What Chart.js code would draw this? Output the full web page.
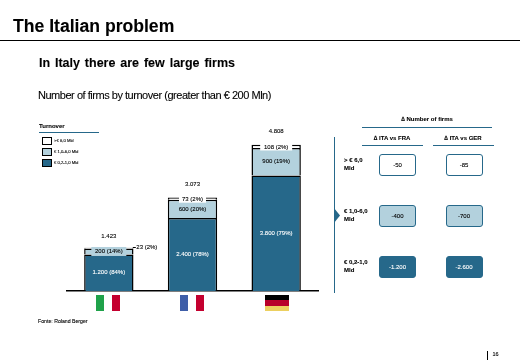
<!DOCTYPE html>
<html><head><meta charset="utf-8">
<script src="https://cdn.jsdelivr.net/npm/chart.js@4"></script>
<style>
html,body{margin:0;padding:0;background:#fff;width:520px;height:360px;overflow:hidden}
body{position:relative;font-family:"Liberation Sans",Arial,sans-serif;color:#000}
canvas{position:absolute;left:0;top:0}
.t{position:absolute;white-space:nowrap;line-height:1;-webkit-text-stroke:.1px currentColor}
.c{transform:translateX(-50%)}
.r{position:absolute}
.box{position:absolute;box-sizing:border-box;border:1px solid #26688A;border-radius:3px;display:flex;align-items:center;justify-content:center;font-size:6px;-webkit-text-stroke:.1px currentColor}
</style></head><body>
<canvas id="c" width="520" height="360"></canvas>
<div id="ui"></div>
<script>
const categories = ["Italy","France","Germany"];
const lowFirms = [1200,2400,3800];
const midFirms = [200,600,900];
const highFirms = [23,73,108];
const lowPct = [84,78,79];
const midPct = [14,20,19];
const highPct = [2,2,2];
const totals = [1423,3073,4808];
const bandLabels = ["€ 0,2-1,0 Mld","€ 1,0-6,0 Mld",">€ 6,0 Mld"];
const rowLabels = [["> € 6,0","Mld"],["€ 1,0-6,0","Mld"],["€ 0,2-1,0","Mld"]];
const diffFra = [-50,-400,-1200];
const diffGer = [-85,-700,-2600];

const DARK="#26688A", LIGHT="#B3D1DD";
const fmt=n=>{const s=String(Math.abs(n)).replace(/\B(?=(\d{3})+$)/g,".");return (n<0?"-":"")+s;};

const labelsPlugin={id:"labels",afterDatasetsDraw(ch){
  const g=ch.ctx,y=ch.scales.y;
  g.save();g.font='6px "Liberation Sans"';g.textAlign="center";g.textBaseline="middle";g.lineWidth=.1;
  const put=(txt,x,yy,col)=>{g.fillStyle=col;g.strokeStyle=col;g.fillText(txt,x,yy);g.strokeText(txt,x,yy);};
  categories.forEach((c,i)=>{
    const x=ch.getDatasetMeta(0).data[i].x;
    const tag=(txt,yy,col,bg,w,h)=>{
      if(bg){g.fillStyle=bg;g.fillRect(x-w/2,yy-h/2,w,h);}
      put(txt,x,yy,col);
    };
    tag(fmt(lowFirms[i])+" ("+lowPct[i]+"%)",y.getPixelForValue(lowFirms[i]/2),"#fff");
    const my=y.getPixelForValue(lowFirms[i]+midFirms[i]/2);
    const hy=y.getPixelForValue(lowFirms[i]+midFirms[i]+highFirms[i]/2);
    if(i===0){
      tag(fmt(midFirms[i])+" ("+midPct[i]+"%)",my,"#000",LIGHT,35,9);
      g.save();g.strokeStyle="#000";g.lineWidth=1;g.beginPath();g.moveTo(x+24,Math.round(hy)-.5);g.lineTo(x+27,Math.round(hy)-.5);g.stroke();g.restore();
      g.textAlign="left";
      put(fmt(highFirms[i])+" ("+highPct[i]+"%)",x+27.5,hy-.5,"#000");g.textAlign="center";
    }else{
      tag(fmt(midFirms[i])+" ("+midPct[i]+"%)",my,"#000");
      tag(fmt(highFirms[i])+" ("+highPct[i]+"%)",hy+.5,"#000","#fff",i===1?27:32,7);
    }
    tag(fmt(totals[i]),y.getPixelForValue(totals[i])-(i===0?11:13),"#000");
  });
  g.restore();
}};

new Chart(document.getElementById("c"),{
  type:"bar",
  data:{labels:categories,datasets:[
    {label:bandLabels[0],data:lowFirms,backgroundColor:DARK},
    {label:bandLabels[1],data:midFirms,backgroundColor:LIGHT},
    {label:bandLabels[2],data:highFirms,backgroundColor:"#fff"}
  ].map(d=>Object.assign(d,{borderColor:"#000",borderWidth:1.5,categoryPercentage:1,barPercentage:0.59}))},
  options:{responsive:false,animation:false,
    layout:{padding:{left:67,right:202,top:139,bottom:69}},
    plugins:{legend:{display:false},tooltip:{enabled:false}},
    scales:{
      x:{stacked:true,grid:{display:false,drawTicks:false},ticks:{display:false},border:{color:"#000",width:1.5}},
      y:{stacked:true,min:0,max:5000,display:false}
    }},
  plugins:[labelsPlugin]
});

const ui=document.getElementById("ui");
function T(txt,x,y,size,o={}){const d=document.createElement("div");d.className="t"+(o.c?" c":"");d.textContent=txt;
  d.style.cssText+=`left:${x}px;top:${y-size/2}px;font-size:${size}px;font-weight:${o.b?"bold":"normal"};color:${o.col||"#000"};`+(o.ls?`letter-spacing:${o.ls}px;`:"")+(o.ws?`word-spacing:${o.ws}px;`:"");ui.appendChild(d);return d;}
function R(x,y,w,h,col,extra=""){const d=document.createElement("div");d.className="r";d.style.cssText=`left:${x}px;top:${y}px;width:${w}px;height:${h}px;background:${col};${extra}`;ui.appendChild(d);return d;}

T("The Italian problem",13,27,17.6,{b:1});
R(0,40,520,1,"#000");
T("In Italy there are few large firms",39,63.5,12.5,{b:1,ws:1.4});
T("Number of firms by turnover (greater than € 200 Mln)",38,95,11,{ls:-.47});

T("Turnover",39,125.5,6,{b:1});
R(39,132,60,1,DARK);
[["#fff",137],[LIGHT,148],[DARK,159]].forEach(([col,y],i)=>{
  R(42,y,10,8,col,"box-sizing:border-box;border:1px solid #000;");
  T(bandLabels[2-i],54,y+4,4.2);
});

T("Fonte: Roland Berger",38,322,5.2);
R(487,351,1,9,"#000");
T("16",492.5,355,5.5);

/* flags */
function flag(x,cols,horizontal){const n=cols.length;cols.forEach((c,i)=>{
  if(horizontal)R(x,295+i*16/n,24,16/n,c);else R(x+i*8,295,8,16,c);});}
flag(96,["#1FA24A","#fff","#C4002F"]);
flag(180,["#3F5FA8","#fff","#C4002F"]);
flag(265,["#000","#B8002A","#ECD060"],true);

/* right panel */
R(334,137,1,156,DARK);
R(334,208,6,15,DARK,"clip-path:polygon(0 0,100% 50%,0 100%);");
T("∆ Number of firms",427,118.5,6,{b:1,c:1});
R(362,127,130,1,DARK);
T("∆ ITA vs FRA",392,137.5,6,{b:1,c:1});
R(362,145,61,1,DARK);
T("∆ ITA vs GER",463,137.5,6,{b:1,c:1});
R(433,145,61,1,DARK);
const rowY=[154,205,256], rowFill=["#fff",LIGHT,DARK], rowText=["#000","#000","#fff"];
rowY.forEach((y,i)=>{
  T(rowLabels[i][0],344,y+5.5,6,{b:1});
  T(rowLabels[i][1],344,y+13.5,6,{b:1});
  [[379,diffFra],[445.5,diffGer]].forEach(([x,arr])=>{
    const b=document.createElement("div");b.className="box";b.textContent=fmt(arr[i]);
    b.style.cssText+=`left:${x}px;top:${y}px;width:37px;height:22px;background:${rowFill[i]};color:${rowText[i]};`;
    ui.appendChild(b);
  });
});
</script>
</body></html>
